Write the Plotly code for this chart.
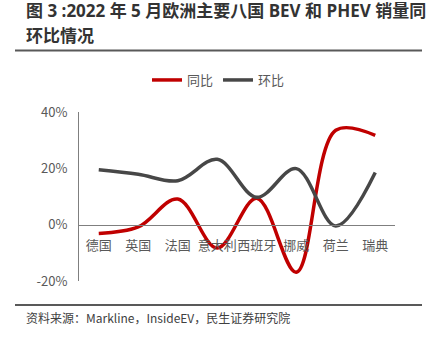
import plotly.graph_objects as go

categories = ["德国", "英国", "法国", "意大利", "西班牙", "挪威", "荷兰", "瑞典"]
yoy = [-3.1, -0.8, 9.1, -8.3, 9.4, -16.9, 33.5, 31.7]
mom = [19.5, 17.9, 15.6, 23.2, 9.7, 19.9, -0.5, 18.5]
y_ticks = [-20, 0, 20, 40]
y_tick_labels = ["-20%", "0%", "20%", "40%"]

CJK = "Noto Sans CJK SC"
TITLE_FONT = "Open Sans, Noto Sans CJK SC"
fig = go.Figure()
fig.add_trace(go.Scatter(x=categories, y=yoy, name="同比", mode="lines",
                         line=dict(color="#C00000", width=3.5, shape="spline", smoothing=1)))
fig.add_trace(go.Scatter(x=categories, y=mom, name="环比", mode="lines",
                         line=dict(color="#474747", width=3.5, shape="spline", smoothing=1)))

fig.update_layout(
    width=436, height=340,
    margin=dict(l=79, r=41, t=112, b=59, autoexpand=False),
    paper_bgcolor="white", plot_bgcolor="white",
    font=dict(family=CJK, color="#595959", size=12),
    showlegend=True,
    legend=dict(orientation="h", x=(218.5-79)/316, xanchor="center", y=1 - 80/340,
                yref="container", yanchor="middle", font=dict(size=13, color="#595959"),
                tracegroupgap=0),
    xaxis=dict(type="category", anchor="free", position=1/3, showline=True,
               linecolor="#7f7f7f", linewidth=1, ticks="", showgrid=False,
               range=[-0.5, 7.5], ticklabelstandoff=9, tickangle=0, automargin=False,
               tickfont=dict(size=13, color="#595959")),
    yaxis=dict(range=[-20, 40], tickvals=y_ticks, ticktext=y_tick_labels,
               showline=True, linecolor="#7f7f7f", linewidth=1, showgrid=False,
               zeroline=False, ticks="", ticklabelstandoff=8, automargin=False,
               tickfont=dict(size=13, color="#595959")),
)

fig.add_annotation(text="<b>图 3 :2022 年 5 月欧洲主要八国 BEV 和 PHEV 销量同</b>",
                   xref="paper", yref="paper", x=(24-79)/316, y=1+(112-11)/169,
                   xanchor="left", yanchor="middle", showarrow=False,
                   font=dict(family=TITLE_FONT, size=17, color="#333333"))
fig.add_annotation(text="<b>环比情况</b>",
                   xref="paper", yref="paper", x=(24-79)/316, y=1+(112-35)/169,
                   xanchor="left", yanchor="middle", showarrow=False,
                   font=dict(family=TITLE_FONT, size=17, color="#333333"))
fig.add_annotation(text="资料来源：Markline，InsideEV，民生证券研究院",
                   xref="paper", yref="paper", x=(24-79)/316, y=-(317-281)/169,
                   xanchor="left", yanchor="middle", showarrow=False,
                   font=dict(family=CJK, size=12, color="#404040"))

fig.add_shape(type="line", xref="paper", yref="paper",
              x0=(15-79)/316, x1=(422-79)/316, y0=1+(112-50.5)/169, y1=1+(112-50.5)/169,
              line=dict(color="#595959", width=2))
fig.add_shape(type="line", xref="paper", yref="paper",
              x0=(15-79)/316, x1=(422-79)/316, y0=-(305-281)/169, y1=-(305-281)/169,
              line=dict(color="#595959", width=2))

fig.write_html("out.html")
